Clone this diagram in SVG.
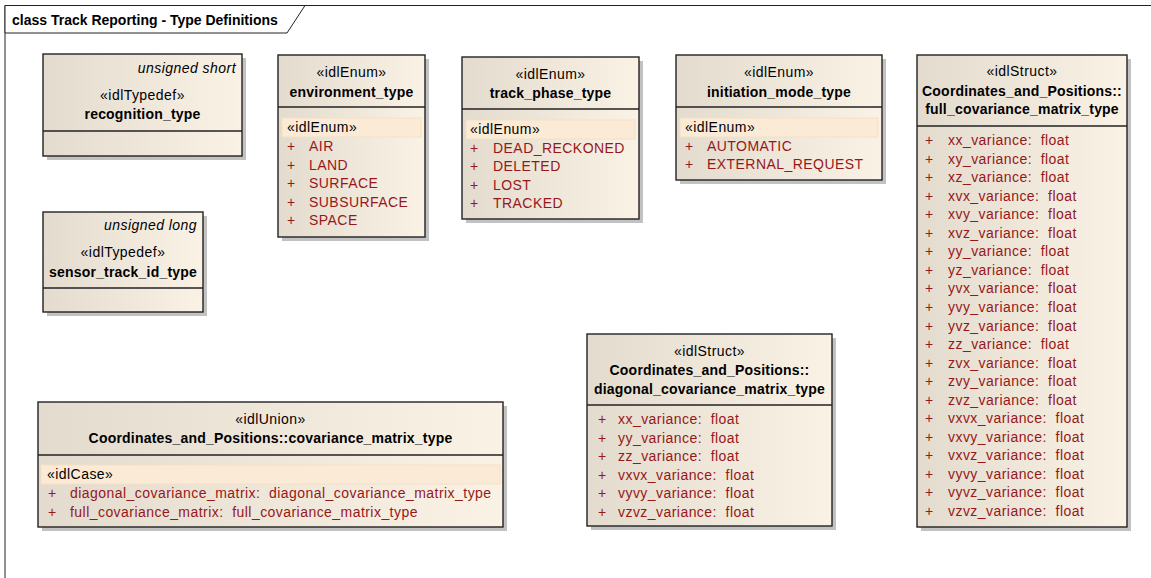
<svg xmlns="http://www.w3.org/2000/svg" width="1151" height="578" viewBox="0 0 1151 578">
<defs>
<linearGradient id="g" x1="0" y1="0" x2="1" y2="0">
<stop offset="0" stop-color="#e4dbcf"/>
<stop offset="1" stop-color="#fbf2e6"/>
</linearGradient>
<style>
text{font-family:"Liberation Sans",Arial,sans-serif;font-size:14px;letter-spacing:0.45px;fill:#000;white-space:pre}
.b{font-weight:bold;letter-spacing:0.2px}
.i{font-style:italic}
.c{text-anchor:middle}
.e{text-anchor:end}
.m{fill:#961818}
.box{fill:url(#g);stroke:#222;stroke-width:1.4}
.sh{fill:#c2c2c2}
.sep{stroke:#222;stroke-width:1.4}
.hl{fill:#fbebd6;stroke:#f3e0c6;stroke-width:1}
</style>
</defs>
<rect width="1151" height="578" fill="#fff"/>
<g id="frame">
<path d="M5,578 V5.5 H1151" fill="none" stroke="#222" stroke-width="1"/>
<path d="M5,5.5 H305 L287,33 H5 Z" fill="#fff" stroke="#222" stroke-width="1"/>
<text class="b" x="12" y="25" style="letter-spacing:0">class Track Reporting - Type Definitions</text>
</g>
<g id="connectors"></g>
<g id="recognition_type">
<rect class="sh" x="47" y="58" width="199" height="102"/>
<rect class="box" x="43" y="54" width="199" height="102"/>
<line class="sep" x1="43" y1="131" x2="242" y2="131"/>
<text class="i e" x="236" y="73">unsigned short</text>
<text class="c" x="142.5" y="100">«idlTypedef»</text>
<text class="b c" x="142.5" y="119">recognition_type</text>
</g>
<g id="sensor_track_id_type">
<rect class="sh" x="47" y="216" width="160" height="100"/>
<rect class="box" x="43" y="212" width="160" height="100"/>
<line class="sep" x1="43" y1="288" x2="203" y2="288"/>
<text class="i e" x="197" y="230">unsigned long</text>
<text class="c" x="123" y="257">«idlTypedef»</text>
<text class="b c" x="123" y="277">sensor_track_id_type</text>
</g>
<g id="environment_type">
<rect class="sh" x="282" y="59" width="147" height="182"/>
<rect class="box" x="278" y="55" width="147" height="182"/>
<line class="sep" x1="278" y1="107" x2="425" y2="107"/>
<text class="c" x="351.5" y="77">«idlEnum»</text>
<text class="b c" x="351.5" y="97">environment_type</text>
<rect class="hl" x="282" y="118" width="139" height="19"/>
<text x="287" y="132">«idlEnum»</text>
<text class="m" x="287" y="151">+</text><text class="m" x="309" y="151">AIR</text>
<text class="m" x="287" y="169.6">+</text><text class="m" x="309" y="169.6">LAND</text>
<text class="m" x="287" y="188.2">+</text><text class="m" x="309" y="188.2">SURFACE</text>
<text class="m" x="287" y="206.8">+</text><text class="m" x="309" y="206.8">SUBSURFACE</text>
<text class="m" x="287" y="225.4">+</text><text class="m" x="309" y="225.4">SPACE</text>
</g>
<g id="track_phase_type">
<rect class="sh" x="466" y="61" width="177" height="162"/>
<rect class="box" x="462" y="57" width="177" height="162"/>
<line class="sep" x1="462" y1="109" x2="639" y2="109"/>
<text class="c" x="550.5" y="79">«idlEnum»</text>
<text class="b c" x="550.5" y="98">track_phase_type</text>
<rect class="hl" x="466" y="120" width="169" height="19"/>
<text x="470" y="134">«idlEnum»</text>
<text class="m" x="470" y="152.5">+</text><text class="m" x="493" y="152.5">DEAD_RECKONED</text>
<text class="m" x="470" y="171.1">+</text><text class="m" x="493" y="171.1">DELETED</text>
<text class="m" x="470" y="189.7">+</text><text class="m" x="493" y="189.7">LOST</text>
<text class="m" x="470" y="208.3">+</text><text class="m" x="493" y="208.3">TRACKED</text>
</g>
<g id="initiation_mode_type">
<rect class="sh" x="680" y="59" width="206" height="125"/>
<rect class="box" x="676" y="55" width="206" height="125"/>
<line class="sep" x1="676" y1="107" x2="882" y2="107"/>
<text class="c" x="779" y="77">«idlEnum»</text>
<text class="b c" x="779" y="97">initiation_mode_type</text>
<rect class="hl" x="680" y="118" width="198" height="19"/>
<text x="685" y="132">«idlEnum»</text>
<text class="m" x="685" y="150.5">+</text><text class="m" x="707" y="150.5">AUTOMATIC</text>
<text class="m" x="685" y="169">+</text><text class="m" x="707" y="169">EXTERNAL_REQUEST</text>
</g>
<g id="full_covariance_matrix_type">
<rect class="sh" x="921" y="59" width="210" height="472"/>
<rect class="box" x="917" y="55" width="210" height="472"/>
<line class="sep" x1="917" y1="126" x2="1127" y2="126"/>
<text class="c" x="1022" y="76">«idlStruct»</text>
<text class="b c" x="1022" y="96">Coordinates_and_Positions::</text>
<text class="b c" x="1022" y="114">full_covariance_matrix_type</text>
<text class="m" x="925" y="145">+</text><text class="m" x="948" y="145">xx_variance:  float</text>
<text class="m" x="925" y="163.55">+</text><text class="m" x="948" y="163.55">xy_variance:  float</text>
<text class="m" x="925" y="182.1">+</text><text class="m" x="948" y="182.1">xz_variance:  float</text>
<text class="m" x="925" y="200.65">+</text><text class="m" x="948" y="200.65">xvx_variance:  float</text>
<text class="m" x="925" y="219.2">+</text><text class="m" x="948" y="219.2">xvy_variance:  float</text>
<text class="m" x="925" y="237.75">+</text><text class="m" x="948" y="237.75">xvz_variance:  float</text>
<text class="m" x="925" y="256.3">+</text><text class="m" x="948" y="256.3">yy_variance:  float</text>
<text class="m" x="925" y="274.85">+</text><text class="m" x="948" y="274.85">yz_variance:  float</text>
<text class="m" x="925" y="293.4">+</text><text class="m" x="948" y="293.4">yvx_variance:  float</text>
<text class="m" x="925" y="311.95">+</text><text class="m" x="948" y="311.95">yvy_variance:  float</text>
<text class="m" x="925" y="330.5">+</text><text class="m" x="948" y="330.5">yvz_variance:  float</text>
<text class="m" x="925" y="349.05">+</text><text class="m" x="948" y="349.05">zz_variance:  float</text>
<text class="m" x="925" y="367.6">+</text><text class="m" x="948" y="367.6">zvx_variance:  float</text>
<text class="m" x="925" y="386.15">+</text><text class="m" x="948" y="386.15">zvy_variance:  float</text>
<text class="m" x="925" y="404.7">+</text><text class="m" x="948" y="404.7">zvz_variance:  float</text>
<text class="m" x="925" y="423.25">+</text><text class="m" x="948" y="423.25">vxvx_variance:  float</text>
<text class="m" x="925" y="441.8">+</text><text class="m" x="948" y="441.8">vxvy_variance:  float</text>
<text class="m" x="925" y="460.35">+</text><text class="m" x="948" y="460.35">vxvz_variance:  float</text>
<text class="m" x="925" y="478.9">+</text><text class="m" x="948" y="478.9">vyvy_variance:  float</text>
<text class="m" x="925" y="497.45">+</text><text class="m" x="948" y="497.45">vyvz_variance:  float</text>
<text class="m" x="925" y="516">+</text><text class="m" x="948" y="516">vzvz_variance:  float</text>
</g>
<g id="diagonal_covariance_matrix_type">
<rect class="sh" x="591" y="338" width="245" height="192"/>
<rect class="box" x="587" y="334" width="245" height="192"/>
<line class="sep" x1="587" y1="405" x2="832" y2="405"/>
<text class="c" x="709.5" y="356">«idlStruct»</text>
<text class="b c" x="709.5" y="375">Coordinates_and_Positions::</text>
<text class="b c" x="709.5" y="394">diagonal_covariance_matrix_type</text>
<text class="m" x="598" y="424">+</text><text class="m" x="618" y="424">xx_variance:  float</text>
<text class="m" x="598" y="442.5">+</text><text class="m" x="618" y="442.5">yy_variance:  float</text>
<text class="m" x="598" y="461">+</text><text class="m" x="618" y="461">zz_variance:  float</text>
<text class="m" x="598" y="479.5">+</text><text class="m" x="618" y="479.5">vxvx_variance:  float</text>
<text class="m" x="598" y="498">+</text><text class="m" x="618" y="498">vyvy_variance:  float</text>
<text class="m" x="598" y="516.5">+</text><text class="m" x="618" y="516.5">vzvz_variance:  float</text>
</g>
<g id="covariance_matrix_type">
<rect class="sh" x="42" y="406" width="465" height="125"/>
<rect class="box" x="38" y="402" width="465" height="125"/>
<line class="sep" x1="38" y1="455" x2="503" y2="455"/>
<text class="c" x="270.5" y="424">«idlUnion»</text>
<text class="b c" x="270.5" y="443">Coordinates_and_Positions::covariance_matrix_type</text>
<rect class="hl" x="41" y="465" width="459" height="19"/>
<text x="47" y="479">«idlCase»</text>
<text class="m" x="48" y="498">+</text><text class="m" x="70" y="498">diagonal_covariance_matrix:  diagonal_covariance_matrix_type</text>
<text class="m" x="48" y="517">+</text><text class="m" x="70" y="517">full_covariance_matrix:  full_covariance_matrix_type</text>
</g>
</svg>
